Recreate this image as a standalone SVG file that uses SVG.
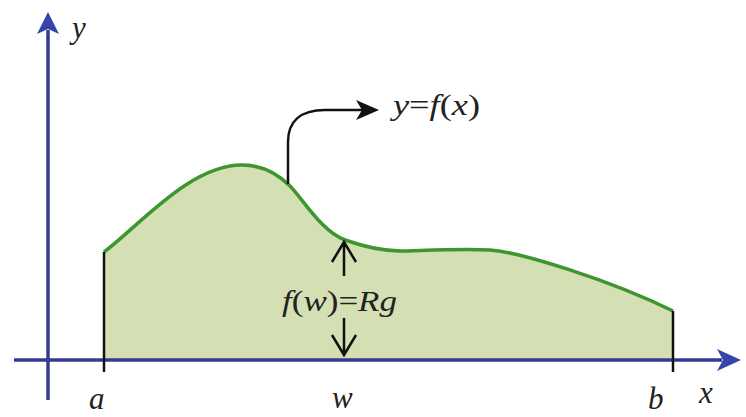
<svg xmlns="http://www.w3.org/2000/svg" width="746" height="417" viewBox="0 0 746 417">
<style>
.lbl{font-family:"Liberation Serif","Times New Roman",serif;font-size:30px;fill:#222;}
.it{font-style:italic;}
.s{font-size:31px;}
.axis{stroke:#343b8f;stroke-width:3.5;fill:none;}
.blk{stroke:#111;stroke-width:2.5;fill:none;}
</style>
<rect width="746" height="417" fill="#fff"/>
<g id="area">
<path d="M104,360 L104,252 C140,225 190,165 242,165 C262,165 278,174 290,186 C302,198 322,232 345,240 C368,248 385,251 400,251 C415,251 460,248 490,250 C520,252 610,280 673,311 L673,360 Z" fill="#d4dfb3"/>
<path d="M104,252 C140,225 190,165 242,165 C262,165 278,174 290,186 C302,198 322,232 345,240 C368,248 385,251 400,251 C415,251 460,248 490,250 C520,252 610,280 673,311" fill="none" stroke="#3d962f" stroke-width="3.5"/>
</g>
<g id="axes">
<line class="axis" x1="48" y1="400" x2="48" y2="30"/>
<path d="M48,12 L37,34 L48,29 L59,34 Z" fill="#3546a8"/>
<line class="axis" x1="14" y1="360" x2="722" y2="360"/>
<path d="M741,360 L717,349 L723,360 L717,371 Z" fill="#3546a8"/>
</g>
<g id="bounds">
<line class="blk" x1="104" y1="252" x2="104" y2="372"/>
<line class="blk" x1="673" y1="311" x2="673" y2="372"/>
</g>
<g id="connectors">
<path class="blk" d="M288,184 L288,142 C288,122 300,110 325,110 L368,110" stroke-width="3"/>
<path d="M379,110 L356,100 L362,110 L356,120 Z" fill="#111"/>
<path class="blk" d="M344,276 L344,242 M332,262 L344,242 L356,262"/>
<path class="blk" d="M344,318 L344,355 M332,335 L344,355 L356,335"/>
</g>
<g id="labels">
<text class="lbl it s" x="72" y="38">y</text>
<text class="lbl" x="393" y="115" textLength="87" lengthAdjust="spacingAndGlyphs"><tspan class="it">y</tspan>=<tspan class="it">f</tspan>(<tspan class="it">x</tspan>)</text>
<text class="lbl" x="282" y="311" textLength="115" lengthAdjust="spacingAndGlyphs"><tspan class="it">f</tspan>(<tspan class="it">w</tspan>)=<tspan class="it">Rg</tspan></text>
<text class="lbl it s" x="89" y="409">a</text>
<text class="lbl it s" x="332" y="408">w</text>
<text class="lbl it s" x="648" y="409">b</text>
<text class="lbl it s" x="699" y="403">x</text>
</g>
</svg>
